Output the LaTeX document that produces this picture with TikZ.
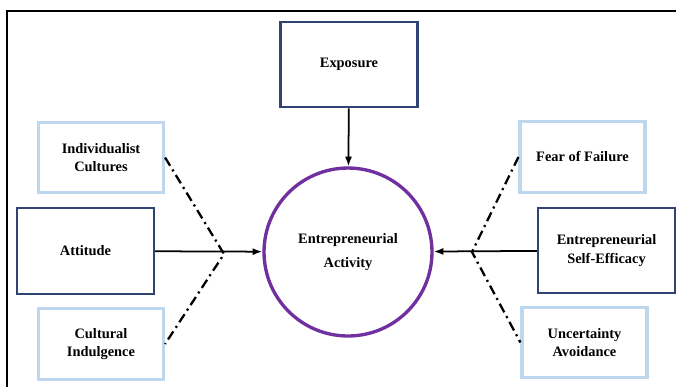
\documentclass[tikz,border=0pt]{standalone}
\usepackage{fontspec}
\setmainfont{Liberation Serif}
\usetikzlibrary{arrows.meta}
\usepackage{xcolor}
\definecolor{navy}{RGB}{47,68,112}
\definecolor{paleblue}{RGB}{189,215,238}
\definecolor{actpurple}{RGB}{112,48,160}
\tikzset{
  block/.style = {rectangle, draw=navy, line width=1.2pt, minimum height=1.71cm, minimum width=2.74cm, align=center, font=\fontsize{8.2}{10.4}\selectfont\bfseries},
  factor/.style = {rectangle, draw=paleblue, line width=1.8pt, minimum height=1.41cm, minimum width=2.5cm, align=center, font=\fontsize{8.2}{10.4}\selectfont\bfseries},
  outcome/.style = {circle, draw=actpurple, line width=1.9pt, minimum size=3.36cm, align=center, font=\fontsize{8.2}{13.6}\selectfont\bfseries},
  arrow/.style = {-{Latex[length=5.5pt,width=4pt]}, line width=1pt},
  moderator/.style = {line width=1.3pt, dash pattern=on 5.5pt off 2.5pt on 1.2pt off 2.5pt}
}
\begin{document}
\begin{tikzpicture}[x=0.02cm, y=-0.02cm]
\useasboundingbox (0,0) rectangle (676,387);
\draw[line width=1.2pt] (7,387) -- (7,11) -- (676,11);

\node[outcome] (act) at (348,252) {Entrepreneurial \\ Activity};
\node[block] (expo) at (349,64.5) {Exposure};

\node[factor] (ind) at (101,157.5) {Individualist \\ Cultures};
\node[block] (att) at (85.5,251) {Attitude};
\node[factor] (cult) at (101,344) {Cultural \\ Indulgence};

\node[factor] (fear) at (582.5,157) {Fear of Failure};
\node[block] (ese) at (606.5,250.5) {Entrepreneurial \\ Self-Efficacy};
\node[factor] (unc) at (584.5,342.5) {Uncertainty \\ Avoidance};

\coordinate (lm) at (224,254);
\coordinate (rm) at (472,252);

\draw[arrow] (expo) -- (act);
\draw[arrow] (att) -- (act);
\draw[arrow] (ese) -- (act);

\draw[moderator] (ind.east) -- (lm) -- (cult.east);
\draw[moderator] (fear.west) -- (rm) -- (unc.west);
\end{tikzpicture}
\end{document}
